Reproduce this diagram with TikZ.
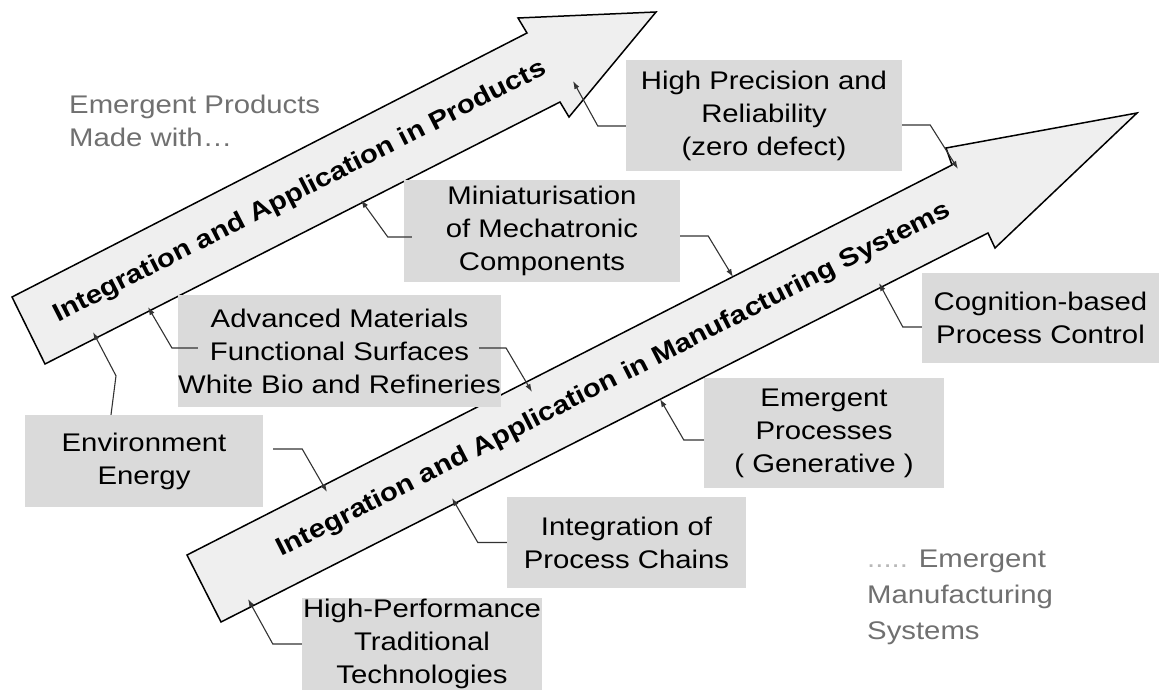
\documentclass[tikz,border=0pt]{standalone}
\usepackage{fontspec}
\setmainfont{Liberation Sans}[FakeStretch=1.15]
\usetikzlibrary{arrows.meta}
\definecolor{boxgray}{HTML}{DADADA}
\definecolor{arrowgray}{HTML}{EFEFEF}
\definecolor{notegray}{HTML}{707070}
\tikzset{
  box/.style={fill=boxgray, align=center, inner sep=0pt},
  bigarrow/.style={draw=black, fill=arrowgray, line width=1.5pt, line join=miter},
  link/.style={draw=black!80, line width=1.1pt, -{Latex[length=8pt,width=5.5pt]}},
  arrowlabel/.style={font=\fontsize{25.5}{33}\selectfont\bfseries, rotate=27, anchor=base, inner sep=0pt},
  note/.style={text=notegray, align=left, anchor=north west, inner sep=0pt}
}
\begin{document}
\begin{tikzpicture}[x=1pt, y=-1pt, font=\fontsize{25.5}{33}\selectfont]
\useasboundingbox (0,0) rectangle (1159,700);
% the two big arrows
\draw[bigarrow] (12,297) -- (527,33) -- (518,18) -- (656,12) -- (569,117) -- (560,102) -- (45,364) -- cycle;
\draw[bigarrow] (187,555) -- (952,165) -- (946,148) -- (1137,113) -- (995,248) -- (988,233) -- (221,622) -- cycle;
\node[arrowlabel] (prodlabel) at (303,198) {Integration and Application in Products};
\node[arrowlabel] (mfglabel) at (617,386) {Integration and Application in Manufacturing Systems};
% points where the links end
\coordinate (up1) at (573,81);
\coordinate (up2) at (361,200);
\coordinate (up3) at (148,307);
\coordinate (up4) at (93,332);
\coordinate (lo1) at (958,169);
\coordinate (lo2) at (733,277);
\coordinate (lo3) at (532,392);
\coordinate (lo4) at (879,283);
\coordinate (lo5) at (660,399);
\coordinate (lo6) at (327,492);
\coordinate (lo7) at (452,498);
\coordinate (lo8) at (248,599);
% boxes
\node[box, minimum width=276, minimum height=111] (prec) at (764,115.5) {High Precision and\\Reliability\\(zero defect)};
\node[box, minimum width=276, minimum height=102] (mini) at (542,231) {Miniaturisation\\of Mechatronic\\Components};
\node[box, minimum width=321, minimum height=112] (adv) at (339.5,351) {Advanced Materials\\Functional Surfaces\\White Bio and Refineries};
\node[box, minimum width=237, minimum height=90] (cogn) at (1040.5,318) {Cognition-based\\Process Control};
\node[box, minimum width=238, minimum height=92] (env) at (144,461) {Environment\\Energy};
\node[box, minimum width=240, minimum height=110] (emproc) at (824,433) {Emergent\\Processes\\( Generative )};
\node[box, minimum width=239, minimum height=91] (chain) at (626.5,542.5) {Integration of\\Process Chains};
\node[box, minimum width=240, minimum height=92] (hpt) at (422,644) {High-Performance\\Traditional\\Technologies};
% links
\draw[link] ([yshift=-10.5pt]prec.west) -- ++(-28,0) -- (up1);
\draw[link] ([yshift=-9.5pt]prec.east) -- ++(28,0) -- (lo1);
\draw[link] ([xshift=8pt,yshift=-6pt]mini.west) -- ++(-24,0) -- (up2);
\draw[link] ([yshift=-5pt]mini.east) -- ++(28,0) -- (lo2);
\draw[link] ([xshift=20pt,yshift=3pt]adv.west) -- ++(-26,0) -- (up3);
\draw[link] ([xshift=-22pt,yshift=3pt]adv.east) -- ++(27,0) -- (lo3);
\draw[link] ([xshift=-33pt]env.north) -- ++(5,-39) -- (up4);
\draw[link] ([xshift=10pt,yshift=12pt]env.east) -- ++(29,0) -- (lo6);
\draw[link] ([yshift=-9pt]cogn.west) -- ++(-19,0) -- (lo4);
\draw[link] ([yshift=-7pt]emproc.west) -- ++(-20,0) -- (lo5);
\draw[link] (chain.west) -- ++(-29,0) -- (lo7);
\draw[link] (hpt.west) -- ++(-29,0) -- (lo8);
% notes
\node[note] (prodnote) at (69,95) {Emergent Products\\Made with…};
\node[note, font=\fontsize{25.5}{36}\selectfont] (mfgnote) at (867,550) {\textcolor{notegray!50}{.....} Emergent\\Manufacturing\\Systems};
\end{tikzpicture}
\end{document}
